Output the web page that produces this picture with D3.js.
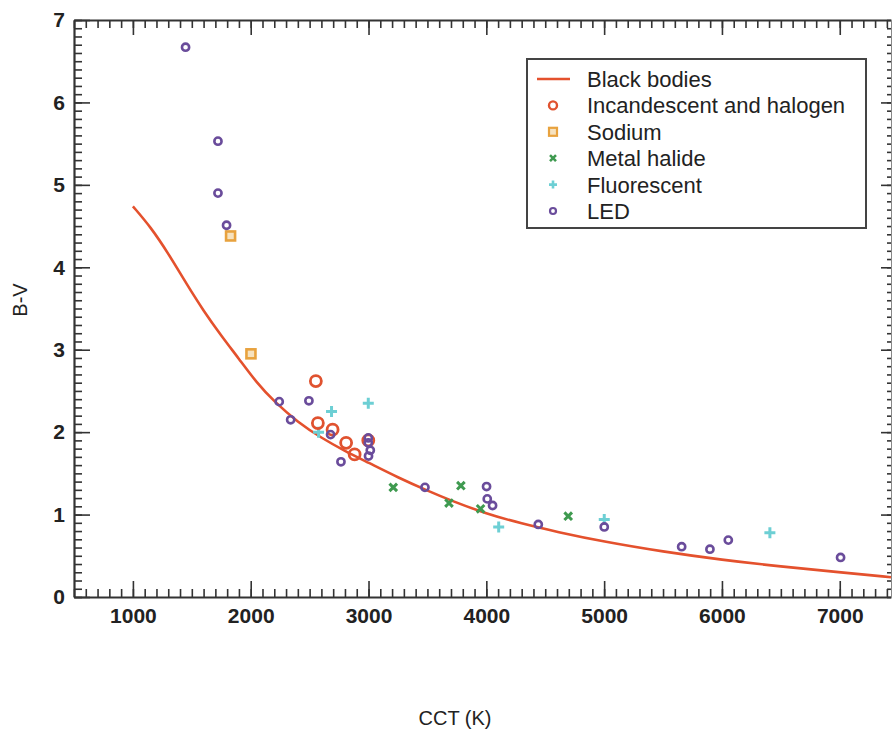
<!DOCTYPE html>
<html>
<head>
<meta charset="utf-8">
<script src="https://cdn.jsdelivr.net/npm/d3@7"></script>
<style>
  html, body { margin: 0; padding: 0; background: #ffffff; }
  svg { display: block; font-family: "Liberation Sans", Arial, Helvetica, sans-serif; }
</style>
</head>
<body>
<svg id="chart" width="893" height="735"></svg>
<script>
// ---- Data ----
const bbTemp = [1000, 1150, 1300, 1450, 1600, 1750, 1900, 2050, 2200, 2400, 2600, 2800, 3000, 3250, 3500, 3700, 4000, 4300, 4600, 5000, 5500, 6000, 6500, 7000, 7435];
const bbBV   = [4.74, 4.49, 4.17, 3.81, 3.47, 3.17, 2.89, 2.60, 2.37, 2.12, 1.93, 1.77, 1.63, 1.45, 1.29, 1.17, 1.01, 0.89, 0.79, 0.67, 0.55, 0.45, 0.37, 0.30, 0.24];

const incCCT = [2553, 2570, 2695, 2810, 2882, 2998];
const incBV  = [2.62, 2.11, 2.03, 1.87, 1.73, 1.90];

const sodCCT = [1829, 2002];
const sodBV  = [4.38, 2.95];

const mhCCT = [3210, 3683, 3784, 3951, 4695];
const mhBV  = [1.33, 1.14, 1.35, 1.07, 0.98];

const flCCT = [2576, 2686, 2998, 4105, 5001, 6407];
const flBV  = [2.00, 2.25, 2.35, 0.85, 0.94, 0.78];

const ledCCT = [1447, 1722, 1722, 1795, 2242, 2339, 2494, 2678, 2766, 2998, 2998, 3015, 3000, 3479, 4002, 4008, 4053, 4441, 5001, 5658, 5898, 6054, 7007];
const ledBV  = [6.67, 5.53, 4.90, 4.51, 2.37, 2.15, 2.38, 1.97, 1.64, 1.93, 1.87, 1.78, 1.71, 1.33, 1.34, 1.19, 1.11, 0.88, 0.85, 0.61, 0.58, 0.69, 0.48];

const xMajorTicks = [1000, 2000, 3000, 4000, 5000, 6000, 7000];
const yMajorTicks = [0, 1, 2, 3, 4, 5, 6, 7];
const legendLabels = ["Black bodies", "Incandescent and halogen", "Sodium", "Metal halide", "Fluorescent", "LED"];
const xTitle = "CCT (K)";
const yTitle = "B-V";

// ---- Styles ----
const C = {
  line: "#e4512d",
  inc: "#e0522f",
  sod: "#e8a23e",
  mh: "#3f9a50",
  fl: "#6dcfd4",
  led: "#6a4c9b",
  axis: "#333333"
};

const svg = d3.select("#chart");
const x = d3.scaleLinear().domain([500, 7435]).range([74, 891]);
const y = d3.scaleLinear().domain([0, 7]).range([597, 20]);

const xMinor = d3.range(500, 7436, 100);
const yMinor = d3.range(0, 7.0001, 0.1).map(v => +v.toFixed(1));

function styleAxis(g) {
  g.selectAll("path").attr("stroke", C.axis);
  g.selectAll("line").attr("stroke", C.axis).attr("stroke-width", 1.6);
}

// bottom
svg.append("g").attr("transform", `translate(0,${y(0)})`)
  .call(d3.axisBottom(x).tickValues(xMinor).tickSizeInner(-8).tickSizeOuter(0).tickFormat(""))
  .call(styleAxis).call(g => g.select("path").attr("stroke-width", 2.2));
svg.append("g").attr("transform", `translate(0,${y(0)})`)
  .call(d3.axisBottom(x).tickValues(xMajorTicks).tickSizeInner(-16).tickSizeOuter(0).tickPadding(11).tickFormat(d3.format("d")))
  .call(styleAxis)
  .call(g => g.select("path").remove())
  .call(g => g.selectAll("text").attr("fill", "#222").attr("font-size", 21).attr("font-weight", "bold"));

// top
svg.append("g").attr("transform", `translate(0,${y(7)})`)
  .call(d3.axisTop(x).tickValues(xMinor).tickSizeInner(-8).tickSizeOuter(0).tickFormat(""))
  .call(styleAxis).call(g => g.select("path").attr("stroke-width", 2));
svg.append("g").attr("transform", `translate(0,${y(7)})`)
  .call(d3.axisTop(x).tickValues(xMajorTicks).tickSizeInner(-15).tickSizeOuter(0).tickFormat(""))
  .call(styleAxis).call(g => g.select("path").remove());

// left
svg.append("g").attr("transform", `translate(${x(500)},0)`)
  .call(d3.axisLeft(y).tickValues(yMinor).tickSizeInner(-8).tickSizeOuter(0).tickFormat(""))
  .call(styleAxis).call(g => g.select("path").attr("stroke-width", 2.2));
svg.append("g").attr("transform", `translate(${x(500)},0)`)
  .call(d3.axisLeft(y).tickValues(yMajorTicks).tickSizeInner(-16).tickSizeOuter(0).tickPadding(9).tickFormat(d3.format("d")))
  .call(styleAxis)
  .call(g => g.select("path").remove())
  .call(g => g.selectAll("text").attr("fill", "#222").attr("font-size", 21).attr("font-weight", "bold"));

// right
svg.append("g").attr("transform", `translate(${x(7435)},0)`)
  .call(d3.axisRight(y).tickValues(yMinor).tickSizeInner(-4).tickSizeOuter(0).tickFormat(""))
  .call(styleAxis).call(g => g.select("path").attr("stroke-width", 1).attr("stroke", "#888"));
svg.append("g").attr("transform", `translate(${x(7435)},0)`)
  .call(d3.axisRight(y).tickValues(yMajorTicks.filter(v => v > 0 && v < 7)).tickSizeInner(-10).tickSizeOuter(0).tickFormat(""))
  .call(styleAxis).call(g => g.select("path").remove());

// axis titles
svg.append("text").attr("x", 455).attr("y", 725).attr("text-anchor", "middle")
  .attr("font-size", 20).attr("fill", "#222").text(xTitle);
svg.append("text").attr("transform", "translate(27,300) rotate(-90)").attr("text-anchor", "middle")
  .attr("font-size", 20).attr("fill", "#222").text(yTitle);

// ---- Black body curve ----
const bb = bbTemp.map((t, i) => ({ t, v: bbBV[i] }));
svg.append("path").datum(bb)
  .attr("fill", "none").attr("stroke", C.line).attr("stroke-width", 2.6)
  .attr("d", d3.line().x(d => x(d.t)).y(d => y(d.v)).curve(d3.curveBasis));

// ---- Symbol helpers ----
function drawCircles(g, xs, ys, r, color, sw) {
  g.selectAll(null).data(xs.map((t, i) => [t, ys[i]])).join("circle")
    .attr("cx", d => x(d[0])).attr("cy", d => y(d[1])).attr("r", r)
    .attr("fill", "none").attr("stroke", color).attr("stroke-width", sw);
}
function drawSquares(g, xs, ys, s, color, sw) {
  g.selectAll(null).data(xs.map((t, i) => [t, ys[i]])).join("rect")
    .attr("x", d => x(d[0]) - s / 2).attr("y", d => y(d[1]) - s / 2)
    .attr("width", s).attr("height", s)
    .attr("fill", "#f6e2bf").attr("stroke", color).attr("stroke-width", sw);
}
function drawCross(g, xs, ys, s, color, sw, diag) {
  const p = diag
    ? `M${-s},${-s}L${s},${s}M${-s},${s}L${s},${-s}`
    : `M${-s},0L${s},0M0,${-s}L0,${s}`;
  g.selectAll(null).data(xs.map((t, i) => [t, ys[i]])).join("path")
    .attr("transform", d => `translate(${x(d[0])},${y(d[1])})`)
    .attr("d", p).attr("fill", "none").attr("stroke", color).attr("stroke-width", sw);
}

const pts = svg.append("g");
drawCross(pts.append("g"), mhCCT, mhBV, 3.8, C.mh, 3, true);
drawCross(pts.append("g"), flCCT, flBV, 5.5, C.fl, 3, false);
drawSquares(pts.append("g"), sodCCT, sodBV, 9, C.sod, 2.6);
drawCircles(pts.append("g"), incCCT, incBV, 5.5, C.inc, 2.8);
drawCircles(pts.append("g"), ledCCT, ledBV, 3.6, C.led, 2.6);

// ---- Legend ----
const lg = svg.append("g");
lg.append("rect").attr("x", 527).attr("y", 59).attr("width", 339).attr("height", 169)
  .attr("fill", "#ffffff").attr("stroke", "#444").attr("stroke-width", 2);
const rowY = i => 79 + i * 26.4;
const symX = 553;
lg.selectAll(null).data(legendLabels).join("text")
  .attr("x", 587).attr("y", (d, i) => rowY(i)).attr("dy", "0.36em")
  .attr("font-size", 22).attr("fill", "#222").text(d => d);
lg.append("line").attr("x1", 537).attr("x2", 570).attr("y1", rowY(0)).attr("y2", rowY(0))
  .attr("stroke", C.line).attr("stroke-width", 2.6);
lg.append("circle").attr("cx", symX).attr("cy", rowY(1)).attr("r", 4).attr("fill", "none").attr("stroke", C.inc).attr("stroke-width", 2.4);
lg.append("rect").attr("x", symX - 4).attr("y", rowY(2) - 4).attr("width", 8).attr("height", 8)
  .attr("fill", "#f6e2bf").attr("stroke", C.sod).attr("stroke-width", 2.2);
lg.append("path").attr("transform", `translate(${symX},${rowY(3)})`)
  .attr("d", "M-3,-3L3,3M-3,3L3,-3").attr("stroke", C.mh).attr("stroke-width", 2.6);
lg.append("path").attr("transform", `translate(${symX},${rowY(4)})`)
  .attr("d", "M-4,0L4,0M0,-4L0,4").attr("stroke", C.fl).attr("stroke-width", 2.6);
lg.append("circle").attr("cx", symX).attr("cy", rowY(5)).attr("r", 3).attr("fill", "none").attr("stroke", C.led).attr("stroke-width", 2.2);
</script>
</body>
</html>
